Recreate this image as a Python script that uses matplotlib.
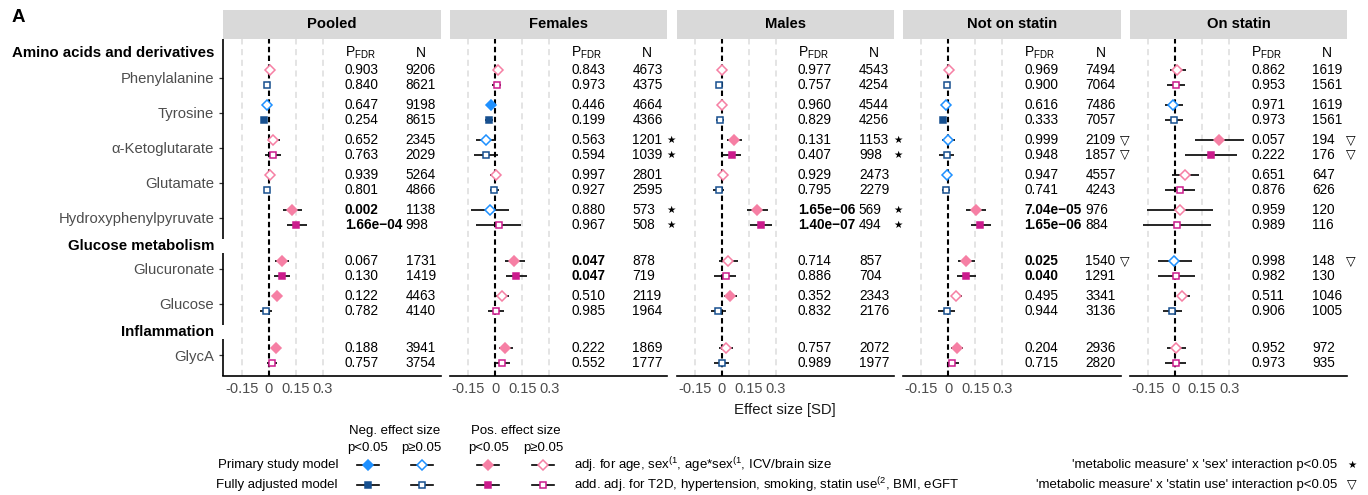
"""Forest plot of metabolite effect sizes across strata (pooled, by sex, by statin use)."""

import numpy as np
import matplotlib
matplotlib.use("Agg")
import matplotlib.pyplot as plt
from matplotlib.patches import Rectangle
from matplotlib.transforms import blended_transform_factory

plt.rcParams["font.family"] = ["Liberation Sans", "DejaVu Sans"]
plt.rcParams["mathtext.fontset"] = "custom"
plt.rcParams["mathtext.rm"] = "Liberation Sans"
plt.rcParams["mathtext.it"] = "Liberation Sans:italic"
plt.rcParams["mathtext.bf"] = "Liberation Sans:bold"

# ---------------------------------------------------------------- data
panels = ["Pooled", "Females", "Males", "Not on statin", "On statin"]
group_names = ["Amino acids and derivatives", "Glucose metabolism", "Inflammation"]
metabolites = ["Phenylalanine", "Tyrosine", "α-Ketoglutarate", "Glutamate",
               "Hydroxyphenylpyruvate", "Glucuronate", "Glucose", "GlycA"]
met_group = [0, 0, 0, 0, 0, 1, 1, 2]
# rows: each metabolite -> (primary model, fully adjusted model)

pooled_est = [0.007, -0.007, -0.010, -0.025, 0.025, 0.022, 0.007, -0.011,
              0.131, 0.152, 0.072, 0.072, 0.044, -0.017, 0.041, 0.017]
pooled_lo = [-0.005, -0.018, -0.022, -0.038, -0.002, -0.020, -0.005, -0.025,
             0.078, 0.103, 0.035, 0.030, 0.028, -0.048, 0.022, -0.011]
pooled_hi = [0.019, 0.004, 0.002, -0.012, 0.063, 0.067, 0.019, 0.003,
             0.183, 0.211, 0.114, 0.118, 0.060, 0.017, 0.063, 0.044]
pooled_sig = [0, 0, 0, 1, 0, 0, 0, 0, 1, 1, 1, 1, 1, 0, 1, 0]
pooled_pfdr = [0.903, 0.840, 0.647, 0.254, 0.652, 0.763, 0.939, 0.801,
               0.002, 1.66e-04, 0.067, 0.130, 0.122, 0.782, 0.188, 0.757]
pooled_n = [9206, 8621, 9198, 8615, 2345, 2029, 5264, 4866,
            1138, 998, 1731, 1419, 4463, 4140, 3941, 3754]
pooled_flag = [""] * 16

females_est = [0.015, 0.009, -0.024, -0.037, -0.050, -0.052, 0.004, -0.006,
               -0.032, 0.022, 0.105, 0.115, 0.037, 0.006, 0.056, 0.039]
females_lo = [0.000, -0.018, -0.040, -0.057, -0.106, -0.120, -0.028, -0.032,
              -0.135, -0.106, 0.052, 0.060, 0.006, -0.041, 0.018, 0.000]
females_hi = [0.030, 0.032, -0.008, -0.012, 0.006, 0.013, 0.032, 0.022,
              0.074, 0.144, 0.163, 0.176, 0.074, 0.050, 0.096, 0.083]
females_sig = [0, 0, 1, 1, 0, 0, 0, 0, 0, 0, 1, 1, 0, 0, 1, 0]
females_pfdr = [0.843, 0.973, 0.446, 0.199, 0.563, 0.594, 0.997, 0.927,
                0.880, 0.967, 0.047, 0.047, 0.510, 0.985, 0.222, 0.552]
females_n = [4673, 4375, 4664, 4366, 1201, 1039, 2801, 2595,
             573, 508, 878, 719, 2119, 1964, 1869, 1777]
females_flag = ["", "", "", "", "★", "★", "", "", "★", "★", "", "", "", "", "", ""]

males_est = [0.002, -0.015, 0.002, -0.011, 0.068, 0.056, 0.007, -0.017,
             0.196, 0.217, 0.035, 0.020, 0.044, -0.020, 0.020, -0.002]
males_lo = [-0.010, -0.030, -0.010, -0.035, 0.030, 0.007, -0.020, -0.052,
            0.137, 0.156, -0.017, -0.043, 0.013, -0.063, -0.015, -0.043]
males_hi = [0.014, 0.000, 0.014, 0.013, 0.109, 0.104, 0.035, 0.011,
            0.257, 0.276, 0.087, 0.081, 0.085, 0.022, 0.063, 0.041]
males_sig = [0, 0, 0, 0, 1, 1, 0, 0, 1, 1, 0, 0, 1, 0, 0, 0]
males_pfdr = [0.977, 0.757, 0.960, 0.829, 0.131, 0.407, 0.929, 0.795,
              1.65e-06, 1.40e-07, 0.714, 0.886, 0.352, 0.832, 0.757, 0.989]
males_n = [4543, 4254, 4544, 4256, 1153, 998, 2473, 2279,
           569, 494, 857, 704, 2343, 2176, 2072, 1977]
males_flag = ["", "", "", "", "★", "★", "", "", "★", "★", "", "", "", "", "", ""]

nostatin_est = [0.004, -0.006, -0.015, -0.028, -0.002, -0.007, -0.006, -0.013,
                0.154, 0.176, 0.098, 0.098, 0.041, -0.009, 0.046, 0.022]
nostatin_lo = [-0.008, -0.018, -0.030, -0.040, -0.037, -0.050, -0.018, -0.035,
               0.098, 0.124, 0.052, 0.046, 0.019, -0.056, 0.015, -0.009]
nostatin_hi = [0.016, 0.006, 0.000, -0.016, 0.037, 0.033, 0.006, 0.010,
               0.209, 0.235, 0.148, 0.152, 0.074, 0.037, 0.080, 0.056]
nostatin_sig = [0, 0, 0, 1, 0, 0, 0, 0, 1, 1, 1, 1, 0, 0, 1, 0]
nostatin_pfdr = [0.969, 0.900, 0.616, 0.333, 0.999, 0.948, 0.947, 0.741,
                 7.04e-05, 1.65e-06, 0.025, 0.040, 0.495, 0.944, 0.204, 0.715]
nostatin_n = [7494, 7064, 7486, 7057, 2109, 1857, 4557, 4243,
              976, 884, 1540, 1291, 3341, 3136, 2936, 2820]
nostatin_flag = ["", "", "", "", "▽", "▽", "", "", "", "", "▽", "", "", "", "", ""]

statin_est = [0.013, 0.006, -0.009, -0.006, 0.244, 0.198, 0.056, 0.028,
              0.028, 0.009, -0.004, 0.006, 0.041, -0.019, 0.006, 0.004]
statin_lo = [-0.031, -0.043, -0.056, -0.056, 0.111, 0.056, -0.019, -0.056,
             -0.154, -0.180, -0.093, -0.096, 0.009, -0.065, -0.046, -0.056]
statin_hi = [0.061, 0.056, 0.043, 0.043, 0.380, 0.342, 0.133, 0.111,
             0.209, 0.198, 0.093, 0.111, 0.080, 0.037, 0.061, 0.061]
statin_sig = [0, 0, 0, 0, 1, 1, 0, 0, 0, 0, 0, 0, 0, 0, 0, 0]
statin_pfdr = [0.862, 0.953, 0.971, 0.973, 0.057, 0.222, 0.651, 0.876,
               0.959, 0.989, 0.998, 0.982, 0.511, 0.906, 0.952, 0.973]
statin_n = [1619, 1561, 1619, 1561, 194, 176, 647, 626,
            120, 116, 148, 130, 1046, 1005, 972, 935]
statin_flag = ["", "", "", "", "▽", "▽", "", "", "", "", "▽", "", "", "", "", ""]

est = [pooled_est, females_est, males_est, nostatin_est, statin_est]
lo = [pooled_lo, females_lo, males_lo, nostatin_lo, statin_lo]
hi = [pooled_hi, females_hi, males_hi, nostatin_hi, statin_hi]
sig = [pooled_sig, females_sig, males_sig, nostatin_sig, statin_sig]
pfdr = [pooled_pfdr, females_pfdr, males_pfdr, nostatin_pfdr, statin_pfdr]
n_obs = [pooled_n, females_n, males_n, nostatin_n, statin_n]
flags = [pooled_flag, females_flag, males_flag, nostatin_flag, statin_flag]

xticks = [-0.15, 0, 0.15, 0.3]
xticklabels = ["-0.15", "0", "0.15", "0.3"]

# ---------------------------------------------------------------- style
COLORS = {("neg", 0): "#1E90FF", ("neg", 1): "#17508F",
          ("pos", 0): "#F67FA4", ("pos", 1): "#CC1C8D"}
MARKERS = {0: ("D", 4.7), 1: ("s", 4.9)}
TXT_GREY = "#4D4D4D"

W, H = 1368, 495
PX_PER_SD = 180.0
AX_LEFT0, AX_STEP, AX_W = 223.3, 226.6, 217.4
AX_TOP, AX_BOT = 38.5, 375.5
ZERO_OFF = 45.4
ROW_PX, Y0_PX = 35.0, 77.5
PF_X, N_X, FLAG_X = 76 / PX_PER_SD, 137 / PX_PER_SD, 176 / PX_PER_SD


def fx(px):
    return px / W


def fy(py):
    return 1 - py / H


def draw_point(ax, x, y, value, model, filled, **kw):
    c = COLORS[("neg" if value < 0 else "pos", model)]
    m, ms = MARKERS[model]
    ax.plot(x, y, marker=m, ms=ms, mec=c, mfc=c if filled else "white",
            mew=1.1, ls="none", zorder=4, **kw)


# y layout: one unit per metabolite, wider gap between groups
gap = 1.47
centers = []
yy = 0.0
for i, g in enumerate(met_group):
    if i > 0:
        yy += 1 if g == met_group[i - 1] else gap
    centers.append(yy)
centers = np.array(centers)
row_y = np.column_stack([centers - 0.214, centers + 0.214]).ravel()
row_model = np.tile([0, 1], len(centers))
header_y = [centers[0] - 0.71] + [(centers[i - 1] + centers[i]) / 2 + 0.08
                                  for i in range(1, len(centers))
                                  if met_group[i] != met_group[i - 1]]

ylim = ((AX_BOT - Y0_PX) / ROW_PX, (AX_TOP - Y0_PX) / ROW_PX)
xlim = (-ZERO_OFF / PX_PER_SD, (AX_W - ZERO_OFF) / PX_PER_SD)

fig = plt.figure(figsize=(W / 100, H / 100), dpi=100)

for p, name in enumerate(panels):
    left = AX_LEFT0 + p * AX_STEP
    ax = fig.add_axes([fx(left), fy(AX_BOT), AX_W / W, (AX_BOT - AX_TOP) / H])
    ax.set_xlim(xlim)
    ax.set_ylim(ylim)
    for s in ["top", "right", "left"]:
        ax.spines[s].set_visible(False)
    ax.spines["bottom"].set_linewidth(1.2)

    for gx in xticks:
        if gx != 0:
            ax.axvline(gx, color="#DCDCDC", lw=1.1, ls=(0, (4, 3)), zorder=0)
    ax.axvline(0, color="black", lw=1.5, ls=(0, (2.6, 1.6)), zorder=1)

    e = np.array(est[p])
    ax.hlines(row_y, lo[p], hi[p], color="black", lw=1.2, zorder=2)
    for k in range(len(e)):
        draw_point(ax, e[k], row_y[k], e[k], row_model[k], sig[p][k])

    # text columns
    ax.text(PF_X, header_y[0], r"P$_{\mathrm{FDR}}$", ha="left", va="center",
            fontsize=10, clip_on=False)
    ax.text(N_X + 15 / PX_PER_SD, header_y[0], "N", ha="center", va="center",
            fontsize=10, clip_on=False)
    for k in range(len(e)):
        v = pfdr[p][k]
        s = f"{v:.2e}".replace("e-", "e\u2212") if v < 0.001 else f"{v:.3f}"
        ax.text(PF_X, row_y[k], s, ha="left", va="center", fontsize=9.8,
                fontweight="bold" if v < 0.05 else "normal", clip_on=False)
        ax.text(N_X, row_y[k], str(n_obs[p][k]), ha="left", va="center",
                fontsize=9.8, clip_on=False)
        if flags[p][k]:
            ax.text(FLAG_X, row_y[k], flags[p][k], ha="center", va="center",
                    fontsize=7.5 if flags[p][k] == "★" else 9,
                    family="DejaVu Sans", clip_on=False)

    ax.set_xticks(xticks)
    ax.set_xticklabels(xticklabels)
    ax.tick_params(axis="x", length=0, pad=5, labelsize=10.5, labelcolor=TXT_GREY)

    # facet strip
    strip_h = (AX_TOP - 10) / (AX_BOT - AX_TOP)
    ax.add_patch(Rectangle((0, 1), 1, strip_h, transform=ax.transAxes,
                           facecolor="#D9D9D9", edgecolor="none", clip_on=False))
    ax.text(0.5, 1 + strip_h / 2, name, transform=ax.transAxes, ha="center",
            va="center", fontsize=10.6, fontweight="bold")

    if p == 0:
        ax.set_yticks(centers)
        ax.set_yticklabels(metabolites)
        ax.tick_params(axis="y", length=3.2, width=0.9, color="#333333", pad=3.4,
                       labelsize=10.7, labelcolor=TXT_GREY)
        # left axis line, broken behind the group headings
        cuts = [ylim[1]]
        for hy in header_y[1:]:
            cuts += [hy - 0.2, hy + 0.2]
        cuts.append(ylim[0])
        for a, b in zip(cuts[::2], cuts[1::2]):
            ax.plot([xlim[0], xlim[0]], [a, b], color="black", lw=1.2,
                    clip_on=False, solid_capstyle="butt")
        tr = blended_transform_factory(ax.transAxes, ax.transData)
        for gname, hy in zip(group_names, header_y):
            ax.text(-9.3 / AX_W, hy, gname, transform=tr, ha="right", va="center",
                    fontsize=10.8, fontweight="bold")
    else:
        ax.set_yticks([])

fig.text(fx(12), fy(18), "A", fontsize=13.5, fontweight="bold", ha="left", va="center")
fig.text(fx((AX_LEFT0 + AX_LEFT0 + 4 * AX_STEP + AX_W) / 2), fy(410), "Effect size [SD]",
         fontsize=10.7, ha="center", va="center", color="#1A1A1A")

# ---------------------------------------------------------------- legend
lax = fig.add_axes([0, 0, 1, 1])
lax.set_xlim(0, W)
lax.set_ylim(H, 0)
lax.axis("off")
lax.patch.set_visible(False)

key_x = [367.7, 421.7, 488.4, 543.0]
key_sign = [-1, -1, 1, 1]
key_fill = [1, 0, 1, 0]
row_px = [465, 485]
LFS = 9.5
lax.text(394.5, 431, "Neg. effect size", ha="center", va="center", fontsize=LFS)
lax.text(515.5, 431, "Pos. effect size", ha="center", va="center", fontsize=LFS)
for kx, kf in zip(key_x, key_fill):
    lax.text(kx, 448, "p<0.05" if kf else "p≥0.05", ha="center", va="center", fontsize=LFS)
for m, (ry, mname) in enumerate(zip(row_px, ["Primary study model", "Fully adjusted model"])):
    lax.text(338, ry, mname, ha="right", va="center", fontsize=LFS)
    for kx, ks, kf in zip(key_x, key_sign, key_fill):
        lax.plot([kx - 11, kx + 11], [ry, ry], color="black", lw=1.2, zorder=2)
        draw_point(lax, kx, ry, ks, m, kf)
lax.text(574, row_px[0], r"adj. for age, sex$^{(1}$, age*sex$^{(1}$, ICV/brain size",
         ha="left", va="center", fontsize=LFS)
lax.text(574, row_px[1],
         r"add. adj. for T2D, hypertension, smoking, statin use$^{(2}$, BMI, eGFT",
         ha="left", va="center", fontsize=LFS)
lax.text(1337, row_px[0], "'metabolic measure' x 'sex' interaction p<0.05",
         ha="right", va="center", fontsize=LFS)
lax.text(1352, row_px[0], "★", ha="center", va="center", fontsize=7.5, family="DejaVu Sans")
lax.text(1337, row_px[1], "'metabolic measure' x 'statin use' interaction p<0.05",
         ha="right", va="center", fontsize=LFS)
lax.text(1352, row_px[1], "▽", ha="center", va="center", fontsize=9, family="DejaVu Sans")

fig.savefig("out.png", dpi=100)
